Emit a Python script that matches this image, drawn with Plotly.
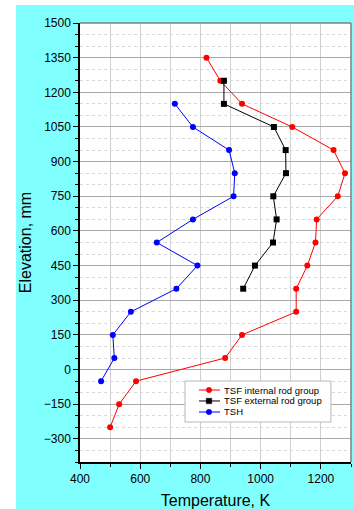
import plotly.graph_objects as go

# Elevation levels (mm) and temperatures (K) for each thermocouple group
elev_int = [1350, 1250, 1150, 1050, 950, 850, 750, 650, 550, 450, 350, 250, 150, 50, -50, -150, -250]
temp_int = [820, 866, 938, 1105, 1242, 1280, 1256, 1186, 1182, 1155, 1118, 1118, 938, 882, 586, 530, 500]

elev_ext = [1250, 1150, 1050, 950, 850, 750, 650, 550, 450, 350]
temp_ext = [878, 878, 1044, 1083, 1084, 1042, 1053, 1041, 981, 942]

elev_tsh = [1150, 1050, 950, 850, 750, 650, 550, 450, 350, 250, 150, 50, -50]
temp_tsh = [715, 775, 895, 914, 910, 775, 655, 790, 720, 569, 509, 514, 470]

names = ["TSF internal rod group", "TSF external rod group", "TSH"]
colors = ["#ff0000", "#000000", "#0000ff"]
symbols = ["circle", "square", "circle"]

series = [(temp_int, elev_int), (temp_ext, elev_ext), (temp_tsh, elev_tsh)]

font = "Liberation Sans, Arial, sans-serif"

fig = go.Figure()
for (xs, ys), name, col, sym in zip(series, names, colors, symbols):
    fig.add_trace(go.Scatter(x=xs, y=ys, mode="lines+markers", name=name,
                             line=dict(color=col, width=1),
                             marker=dict(symbol=sym, size=6, color=col)))

# Compact legend box (paper coordinates of the plot area)
shapes = [
    # cyan backdrop framing the plot
    dict(type="rect", xref="paper", yref="paper", x0=-0.236, x1=1.02, y0=-0.11, y1=1.041,
         fillcolor="#80ffff", line=dict(width=0), layer="below"),
    dict(type="rect", xref="paper", yref="paper", x0=0, x1=1, y0=0, y1=1,
         fillcolor="white", line=dict(width=0), layer="below"),
    # top and right frame
    dict(type="line", xref="paper", yref="paper", x0=0, x1=1, y0=1, y1=1,
         line=dict(color="#808080", width=1.5)),
    dict(type="line", xref="paper", yref="paper", x0=1, x1=1, y0=0, y1=1,
         line=dict(color="#808080", width=1.5)),
    # legend frame
    dict(type="rect", xref="paper", yref="paper", x0=0.3875, x1=0.926, y0=0.0911, y1=0.1845,
         fillcolor="white", line=dict(color="#b8b8b8", width=1)),
]
annotations = []
legend_rows = [0.164, 0.139, 0.1139]
for name, col, sym, ry in zip(names, colors, symbols, legend_rows):
    shapes.append(dict(type="line", xref="paper", yref="paper", x0=0.439, x1=0.5166, y0=ry, y1=ry,
                       line=dict(color=col, width=1)))
    shapes.append(dict(type="circle" if sym == "circle" else "rect",
                       xref="paper", yref="paper",
                       xsizemode="pixel", ysizemode="pixel",
                       xanchor=0.476, yanchor=ry,
                       x0=-2.7, x1=2.7, y0=-2.7, y1=2.7,
                       fillcolor=col, line=dict(color=col, width=0.5)))
    annotations.append(dict(xref="paper", yref="paper", x=0.524, y=ry, text=name,
                            showarrow=False, xanchor="left", yanchor="middle",
                            font=dict(size=9.5, family=font, color="#000")))

fig.update_layout(
    width=354, height=509,
    margin=dict(l=80, r=3, t=23, b=47),
    paper_bgcolor="white",
    plot_bgcolor="white",
    font=dict(family=font, size=12, color="#000"),
    showlegend=False,
    shapes=shapes,
    annotations=annotations,
)

fig.update_xaxes(
    range=[400, 1300], tickmode="linear", tick0=400, dtick=200,
    showline=True, linecolor="black", linewidth=1.5,
    ticks="outside", ticklen=5, tickcolor="black", tickfont=dict(size=12),
    showgrid=True, gridcolor="#d0d0d0", gridwidth=1,
    minor=dict(dtick=100, ticks="outside", ticklen=3, tickcolor="black",
               showgrid=True, gridcolor="#d0d0d0", gridwidth=1),
    zeroline=False,
    title=dict(text="Temperature, K", font=dict(size=16), standoff=10),
)
fig.update_yaxes(
    range=[-400, 1500], tickmode="linear", tick0=-300, dtick=150,
    showline=True, linecolor="black", linewidth=1.5,
    ticks="outside", ticklen=5, tickcolor="black", tickfont=dict(size=12),
    showgrid=True, gridcolor="#a8a8a8", gridwidth=1,
    minor=dict(dtick=50, tick0=0, ticks="outside", ticklen=3, tickcolor="black",
               showgrid=True, gridcolor="#d8d8d8", gridwidth=1, griddash="dot"),
    zeroline=False,
    title=dict(text="Elevation, mm", font=dict(size=16), standoff=8),
)

fig.write_html("out.html")
